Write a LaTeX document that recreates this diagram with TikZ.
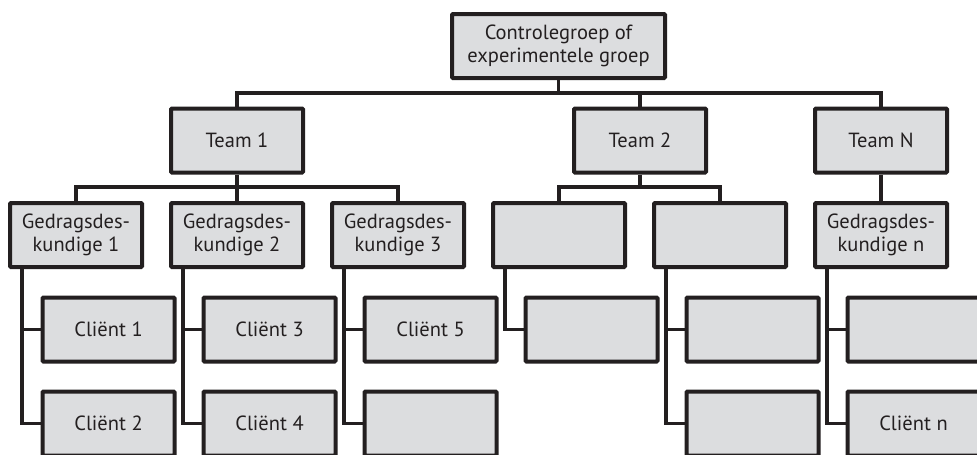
\documentclass[tikz,border=0pt]{standalone}
\usepackage{fontspec}
\setmainfont{PT Sans}
\usepackage{xcolor}
\usetikzlibrary{positioning}
\definecolor{boxfill}{HTML}{DCDDDF}
\definecolor{boxline}{HTML}{231F20}

\begin{document}
\begin{tikzpicture}[x=1pt, y=-1pt,
    unit/.style={draw=boxline, fill=boxfill, line width=4pt, rounded corners=1pt,
      minimum width=132pt, minimum height=64pt, inner sep=0pt, align=center,
      text=boxline, font=\fontsize{20.5}{23}\selectfont},
    link/.style={draw=boxline, line width=3.3pt}
  ]
  \useasboundingbox (0,0) rectangle (977,455);
  \clip (0,0) rectangle (977,455);
  % Top of the tree
  \node[unit, minimum width=213pt] (top) at (558.5,46) {Controlegroep of\\experimentele groep};
  % Teams
  \node[unit] (team1) at (237,140.5) {Team 1};
  \node[unit] (team2) at (640,140.5) {Team 2};
  \node[unit] (teamN) at (881,140.5) {Team N};
  % Gedragsdeskundigen
  \node[unit] (gd1) at (76,235) {Gedragsdes-\\kundige 1};
  \node[unit] (gd2) at (237,235) {Gedragsdes-\\kundige 2};
  \node[unit] (gd3) at (398,235) {Gedragsdes-\\kundige 3};
  \node[unit] (gd4) at (559,235) {};
  \node[unit] (gd5) at (720,235) {};
  \node[unit] (gdn) at (881,235) {Gedragsdes-\\kundige n};
  % Clienten
  \node[unit] (c1) at (108.5,329.5) {Cliënt 1};
  \node[unit] (c2) at (108.5,423.5) {Cliënt 2};
  \node[unit] (c3) at (269.5,329.5) {Cliënt 3};
  \node[unit] (c4) at (269.5,423.5) {Cliënt 4};
  \node[unit] (c5) at (430.5,329.5) {Cliënt 5};
  \node[unit] (c6) at (430.5,423.5) {};
  \node[unit] (c7) at (591.5,329.5) {};
  \node[unit] (c8) at (752.5,329.5) {};
  \node[unit] (c9) at (752.5,423.5) {};
  \node[unit] (c10) at (913.5,329.5) {};
  \node[unit] (cn) at (913.5,423.5) {Cliënt n};
  % Buses between the levels
  \coordinate (bus0) at (558.5,93);
  \draw[link] (top.south) -- (bus0) -| (team1.north);
  \draw[link] (bus0) -| (team2.north);
  \draw[link] (bus0) -| (teamN.north);
  \coordinate (bus1) at (237,187);
  \draw[link] (team1.south) -- (bus1) -| (gd1.north);
  \draw[link] (bus1) -| (gd2.north);
  \draw[link] (bus1) -| (gd3.north);
  \coordinate (bus2) at (640,187);
  \draw[link] (team2.south) -- (bus2) -| (gd4.north);
  \draw[link] (bus2) -| (gd5.north);
  \draw[link] (teamN.south) -- (gdn.north);
  % Spines down to the clients
  \draw[link] ([xshift=14pt]gd1.south west) |- (c1.west);
  \draw[link] ([xshift=14pt]gd1.south west) |- (c2.west);
  \draw[link] ([xshift=14pt]gd2.south west) |- (c3.west);
  \draw[link] ([xshift=14pt]gd2.south west) |- (c4.west);
  \draw[link] ([xshift=14pt]gd3.south west) |- (c5.west);
  \draw[link] ([xshift=14pt]gd3.south west) |- (c6.west);
  \draw[link] ([xshift=14pt]gd4.south west) |- (c7.west);
  \draw[link] ([xshift=14pt]gd5.south west) |- (c8.west);
  \draw[link] ([xshift=14pt]gd5.south west) |- (c9.west);
  \draw[link] ([xshift=14pt]gdn.south west) |- (c10.west);
  \draw[link] ([xshift=14pt]gdn.south west) |- (cn.west);
\end{tikzpicture}
\end{document}
